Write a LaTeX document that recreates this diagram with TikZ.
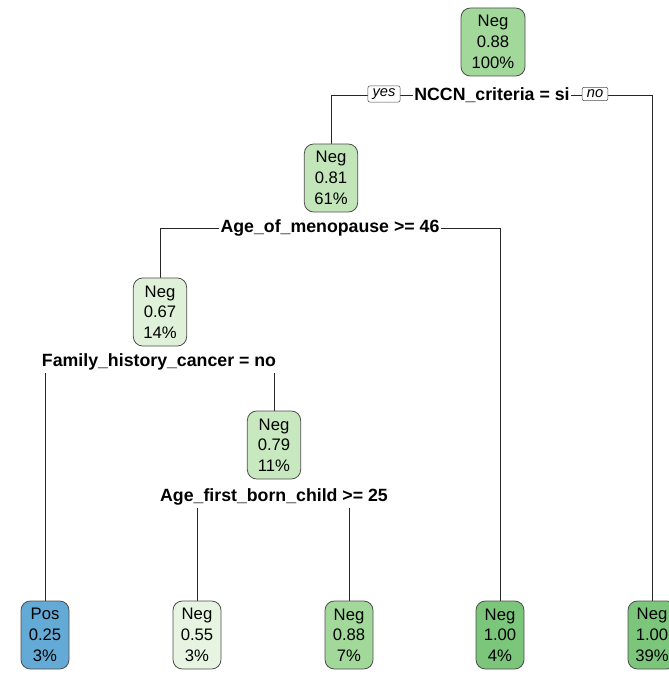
\documentclass[tikz,border=0pt]{standalone}
\usepackage{fontspec}
\setmainfont{Liberation Sans}
\usetikzlibrary{backgrounds}

\definecolor{posblue}{RGB}{99,170,214}
\definecolor{neg55}{RGB}{230,244,225}
\definecolor{neg67}{RGB}{224,241,217}
\definecolor{neg79}{RGB}{200,233,192}
\definecolor{neg81}{RGB}{194,230,186}
\definecolor{neg88}{RGB}{162,217,155}
\definecolor{neg100}{RGB}{124,198,123}

\begin{document}
\begin{tikzpicture}[x=0.75pt,y=-0.75pt]
\tikzset{
  treenode/.style={draw=black!70, line width=0.6pt, rounded corners=7pt,
    align=center, font=\fontsize{12.5}{15.5}\selectfont,
    minimum width=36pt, minimum height=51pt, inner xsep=4pt, inner ysep=2pt},
  inner/.style={treenode, minimum width=40pt},
  splitlabel/.style={fill=white, font=\bfseries\fontsize{13.3}{15}\selectfont,
    inner xsep=1pt, inner ysep=2pt},
  answer/.style={draw=black!70, fill=white, rounded corners=1.5pt,
    font=\itshape\fontsize{11}{12}\selectfont, inner xsep=3.5pt, inner ysep=2pt},
  branch/.style={draw=black!85, line width=0.6pt},
}
\useasboundingbox (0,0) rectangle (668,680);

% internal nodes
\node[inner, minimum width=48pt, fill=neg88] (root) at (493,42) {Neg\\0.88\\100\%};
\node[inner, fill=neg81] (menop) at (331,178) {Neg\\0.81\\61\%};
\node[inner, fill=neg67] (family) at (160,312) {Neg\\0.67\\14\%};
\node[inner, fill=neg79] (firstborn) at (274,445) {Neg\\0.79\\11\%};

% split labels
\node[splitlabel] (nccn) at (492,95) {NCCN\_criteria = si};
\node[answer] (yes) at (384,94) {yes};
\node[answer] (no) at (595,94) {no};
\node[splitlabel] (agemen) at (330,228) {Age\_of\_menopause >= 46};
\node[splitlabel] (famhist) at (159,362) {Family\_history\_cancer = no};
\node[splitlabel] (agefb) at (274,497) {Age\_first\_born\_child >= 25};

% leaves
\node[treenode, fill=posblue] (leafa) at (45,635) {Pos\\0.25\\3\%};
\node[treenode, fill=neg55] (leafb) at (197,635) {Neg\\0.55\\3\%};
\node[treenode, fill=neg88] (leafc) at (349,635) {Neg\\0.88\\7\%};
\node[treenode, fill=neg100] (leafd) at (500,635) {Neg\\1.00\\4\%};
\node[treenode, fill=neg100] (leafe) at (652,635) {Neg\\1.00\\39\%};

\begin{scope}[on background layer]
\draw[branch] (nccn) -| (menop);
\draw[branch] (nccn) -| (leafe);
\draw[branch] (agemen) -| (family);
\draw[branch] (agemen) -| (leafd);
% label wider than the split: only the drops show
\draw[branch] (famhist.south -| leafa) -- (leafa);
\draw[branch] (famhist.south -| firstborn) -- (firstborn);
\draw[branch] (agefb.south -| leafb) -- (leafb);
\draw[branch] (agefb.south -| leafc) -- (leafc);
\end{scope}
\end{tikzpicture}
\end{document}
